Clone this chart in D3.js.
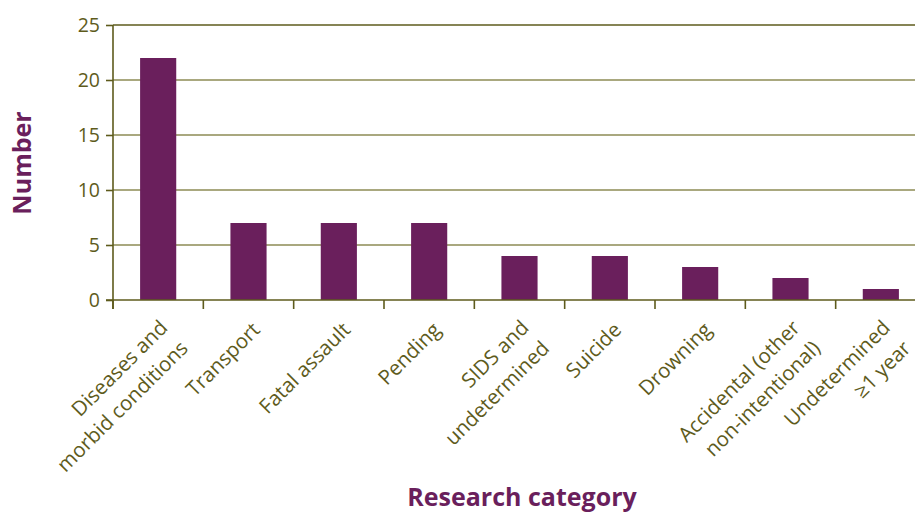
<!DOCTYPE html>
<html><head><meta charset="utf-8">
<script src="https://cdn.jsdelivr.net/npm/d3@7"></script>
<style>body{margin:0;background:#fff}svg{display:block}</style>
</head><body>
<svg id="c" width="915" height="512"></svg>
<script>
const categories = [
  ["Diseases and", "morbid conditions"],
  ["Transport"],
  ["Fatal assault"],
  ["Pending"],
  ["SIDS and", "undetermined"],
  ["Suicide"],
  ["Drowning"],
  ["Accidental (other", "non-intentional)"],
  ["Undetermined", "\u22651 year"]
];
const values = [22, 7, 7, 7, 4, 4, 3, 2, 1];
const yTicks = [0, 5, 10, 15, 20, 25];
const xTitle = "Research category";
const yTitle = "Number";

(function() {
const olive = "#5e5b1c", gridC = "#8d8b55", barC = "#6a1f5c";
const font = "'Open Sans', sans-serif";
const svg = d3.select("#c");
const pl = 113, pr = 926, pt = 25, pb = 300;

const keys = categories.map((c, i) => i);
const x = d3.scaleBand().domain(keys).range([pl, pr]).paddingInner(0.6).paddingOuter(0.3);
const y = d3.scaleLinear().domain([0, 25]).range([pb, pt]);

// gridlines
svg.append("g").selectAll("line").data(yTicks.filter(d => d > 0)).join("line")
  .attr("x1", pl).attr("x2", 915).attr("y1", d => y(d)).attr("y2", d => y(d))
  .attr("stroke", d => d === 25 ? olive : gridC).attr("stroke-width", 1.6);

// bars
svg.append("g").selectAll("rect").data(values).join("rect")
  .attr("x", (d, i) => x(i)).attr("width", x.bandwidth())
  .attr("y", d => y(d)).attr("height", d => pb - y(d))
  .attr("fill", barC);

// y axis
const ya = svg.append("g").attr("transform", `translate(${pl},0)`)
  .call(d3.axisLeft(y).tickValues(yTicks).tickSize(7).tickPadding(6));
ya.select(".domain").attr("stroke", olive).attr("stroke-width", 1.6).attr("d", `M0,${pt}V${pb + 9}`);
ya.selectAll(".tick line").attr("stroke", olive).attr("stroke-width", 1.6);
ya.selectAll(".tick text").attr("fill", olive).style("font-family", font).style("font-size", "19.5px");

// x axis line and band-boundary ticks
const step = x.step();
const bounds = d3.range(categories.length + 1).map(i => pl + i * step);
svg.append("line").attr("x1", pl - 7).attr("x2", 915).attr("y1", pb).attr("y2", pb)
  .attr("stroke", olive).attr("stroke-width", 1.6);
svg.append("g").selectAll("line").data(bounds).join("line")
  .attr("x1", d => d).attr("x2", d => d).attr("y1", pb).attr("y2", pb + 9)
  .attr("stroke", olive).attr("stroke-width", 1.6);

// x labels
const lh = 29;
const lab = svg.append("g").selectAll("text").data(categories).join("text")
  .attr("transform", (d, i) => `translate(${x(i) + x.bandwidth() / 2},${pb}) rotate(-45)`)
  .attr("text-anchor", "end").attr("fill", olive)
  .style("font-family", font).style("font-size", "20.5px");
lab.each(function(d) {
  const t = d3.select(this);
  const base = 31 - (d.length - 1) * 3;
  d.forEach((s, j) => t.append("tspan").attr("x", -13).attr("y", base + j * lh).text(s));
});

// titles
svg.append("text").attr("x", 522).attr("y", 506).attr("text-anchor", "middle")
  .attr("fill", barC).style("font-family", font).style("font-size", "25px").style("font-weight", "bold")
  .text(xTitle);
svg.append("text").attr("transform", "translate(31,163) rotate(-90)").attr("text-anchor", "middle")
  .attr("fill", barC).style("font-family", font).style("font-size", "25px").style("font-weight", "bold")
  .text(yTitle);
})();
</script>
</body></html>
